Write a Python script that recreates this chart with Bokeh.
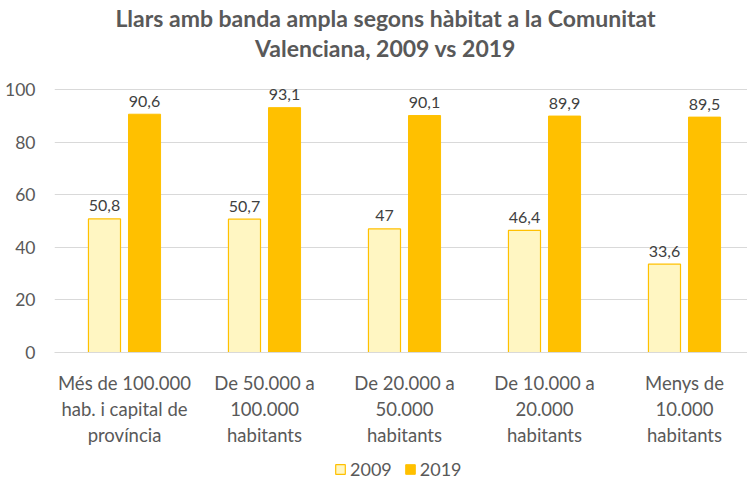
from bokeh.plotting import figure
from bokeh.layouts import column
from bokeh.models import Range1d, FixedTicker, Legend, LegendItem, ColumnDataSource
from bokeh.core.properties import value
from bokeh.embed import file_html
from bokeh.resources import INLINE

categories = [
    "Més de 100.000\nhab. i capital de\nprovíncia",
    "De 50.000 a\n100.000\nhabitants",
    "De 20.000 a\n50.000\nhabitants",
    "De 10.000 a\n20.000\nhabitants",
    "Menys de\n10.000\nhabitants",
]
values_2009 = [50.8, 50.7, 47, 46.4, 33.6]
values_2019 = [90.6, 93.1, 90.1, 89.9, 89.5]
series_names = ["2009", "2019"]
y_ticks = [0, 20, 40, 60, 80, 100]
title_lines = ["Llars amb banda ampla segons hàbitat a la Comunitat",
               "Valenciana, 2009 vs 2019"]

FONT = "Lato"
TXT = "#595959"
W = 747
LEFT = 54
TITLE_H = 76
FRAME_H = 276
BOTTOM = 100
LEGEND_H = 484 - TITLE_H - FRAME_H - BOTTOM
PX_PER_UNIT = 2.63

def fmt(v):
    return f"{v:g}".replace(".", ",")

def style_09():
    return dict(fill_color="#FFF6C2", line_color="#FFC000", line_width=1.2,
                hatch_pattern="checker", hatch_color="#FFE98A", hatch_scale=4,
                hatch_alpha=1.0)

def style_19():
    return dict(fill_color="#FFC000", line_color="#FFC000")

# ---- title strip (its frame is aligned with the chart frame: x in page px) ----
pt = figure(width=W, height=TITLE_H, output_backend="svg", toolbar_location=None,
            x_range=Range1d(LEFT, W), y_range=Range1d(TITLE_H, 0), title=None,
            min_border=0, min_border_left=LEFT, x_axis_location=None,
            y_axis_location=None)
pt.grid.visible = False
pt.outline_line_color = None
pt.text(x=[385, 385], y=[17, 47], text=title_lines, text_align="center",
        text_baseline="middle", text_font=value(FONT), text_font_size="23px",
        text_font_style="bold", text_color=TXT)

# ---- main chart ----
centers = [i + 0.5 for i in range(len(categories))]
off = 0.143
bw = 0.229

src09 = ColumnDataSource(dict(x=[c - off for c in centers], top=values_2009,
                              lab=[fmt(v) for v in values_2009]))
src19 = ColumnDataSource(dict(x=[c + off for c in centers], top=values_2019,
                              lab=[fmt(v) for v in values_2019]))

p = figure(width=W, height=FRAME_H + BOTTOM, output_backend="svg", toolbar_location=None,
           x_range=Range1d(0, 4.95), y_range=Range1d(0, FRAME_H / PX_PER_UNIT),
           title=None, min_border_left=LEFT, min_border_right=0, min_border_top=0,
           min_border_bottom=BOTTOM)
p.outline_line_color = None
p.background_fill_color = "white"
p.border_fill_color = "white"

p.vbar(x="x", top="top", width=bw, source=src09, **style_09())
p.vbar(x="x", top="top", width=bw, source=src19, **style_19())

for s in (src09, src19):
    p.text(x="x", y="top", text="lab", source=s, text_align="center",
           text_baseline="alphabetic", y_offset=-13, text_font=value(FONT),
           text_font_size="16px", text_color="#404040")

p.xaxis.ticker = FixedTicker(ticks=centers)
p.xaxis.major_label_overrides = {c: lab for c, lab in zip(centers, categories)}
p.xaxis.major_label_text_font = FONT
p.xaxis.major_label_text_font_size = "18.5px"
p.xaxis.major_label_text_color = TXT
p.xaxis.major_label_standoff = 13
p.xaxis.major_tick_line_color = None
p.xaxis.minor_tick_line_color = None
p.xaxis.axis_line_color = "#D9D9D9"

p.yaxis.ticker = FixedTicker(ticks=y_ticks)
p.yaxis.major_label_text_font = FONT
p.yaxis.major_label_text_font_size = "17.5px"
p.yaxis.major_label_text_color = TXT
p.yaxis.major_label_standoff = 13
p.yaxis.major_tick_line_color = None
p.yaxis.minor_tick_line_color = None
p.yaxis.axis_line_color = None

p.xgrid.grid_line_color = None
p.ygrid.grid_line_color = "#D9D9D9"
p.ygrid.grid_line_width = 1

# ---- legend strip ----
pl = figure(width=W, height=LEGEND_H, output_backend="svg", toolbar_location=None,
            x_range=Range1d(0, 1), y_range=Range1d(0, 1), title=None,
            min_border=0, min_border_left=LEFT, x_axis_location=None,
            y_axis_location=None)
pl.grid.visible = False
pl.outline_line_color = None
# off-screen proxies so the legend can draw its swatches
l09 = pl.vbar(x=[-5], top=[-5], bottom=[-6], width=0.1, **style_09())
l19 = pl.vbar(x=[-5], top=[-5], bottom=[-6], width=0.1, **style_19())
legend = Legend(items=[LegendItem(label=series_names[0], renderers=[l09]),
                       LegendItem(label=series_names[1], renderers=[l19])],
                orientation="horizontal", location=(334 - LEFT, 4))
legend.label_text_font = FONT
legend.label_text_font_size = "18px"
legend.label_text_color = TXT
legend.glyph_width = 12
legend.glyph_height = 12
legend.spacing = 12
legend.label_standoff = 4
legend.border_line_color = None
legend.background_fill_alpha = 0
legend.padding = 2
legend.margin = 0
pl.add_layout(legend, "center")

layout = column(pt, p, pl, spacing=0)
open("out.html", "w").write(file_html(layout, INLINE))
